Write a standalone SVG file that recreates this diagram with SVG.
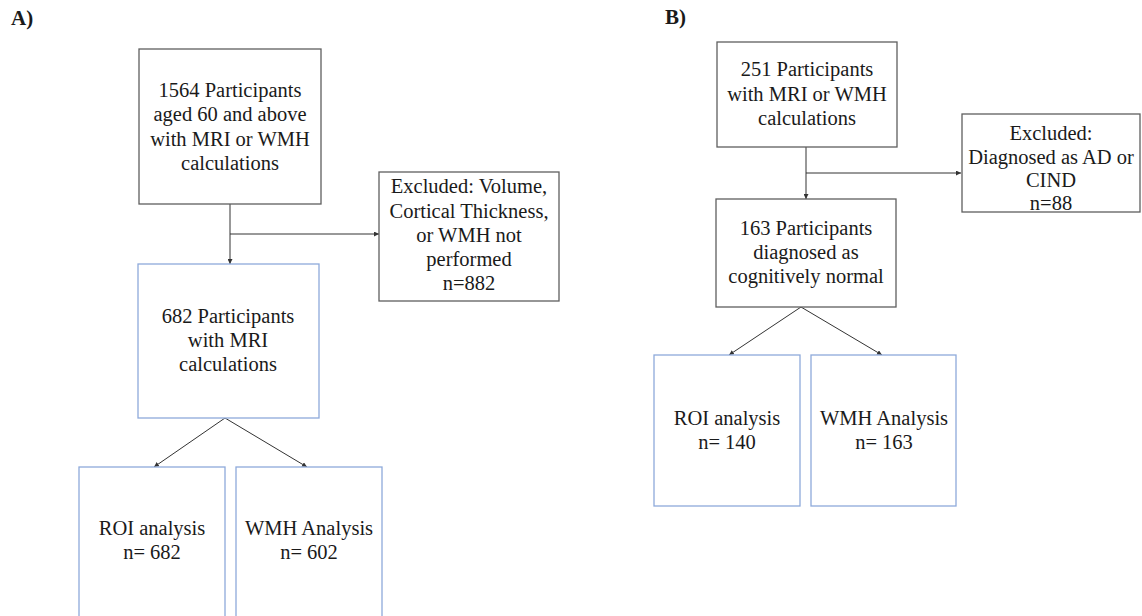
<svg xmlns="http://www.w3.org/2000/svg" width="1142" height="616" viewBox="0 0 1142 616">
<defs>
<style>
text{font-family:"Liberation Serif","Times New Roman",serif;font-size:20.5px;fill:#1a1a1a;text-anchor:middle}
.lbl{font-weight:bold;font-size:21px;text-anchor:start}
.g{fill:#fff;stroke:#5f5f5f;stroke-width:1.3}
.b{fill:#fff;stroke:#8eaadb;stroke-width:1.3}
.c{fill:none;stroke:#333;stroke-width:1}
</style>
<marker id="ah" viewBox="0 0 6 6" refX="6" refY="3" markerWidth="5" markerHeight="5" orient="auto" markerUnits="userSpaceOnUse">
<path d="M0,0 L6,3 L0,6 z" fill="#333"/>
</marker>
</defs>
<rect width="1142" height="616" fill="#fff"/>
<text class="lbl" x="11" y="25">A)</text>
<text class="lbl" x="665" y="24">B)</text>
<g id="connectors">
<path class="c" d="M230,204 V264" marker-end="url(#ah)"/>
<path class="c" d="M230,234 H379" marker-end="url(#ah)"/>
<path class="c" d="M225,418 L154,467" marker-end="url(#ah)"/>
<path class="c" d="M225,418 L307,467" marker-end="url(#ah)"/>
<path class="c" d="M806,147 V199" marker-end="url(#ah)"/>
<path class="c" d="M806,173 H961" marker-end="url(#ah)"/>
<path class="c" d="M801,307 L729,355" marker-end="url(#ah)"/>
<path class="c" d="M801,307 L882,355" marker-end="url(#ah)"/>
</g>
<g id="a-top">
<rect class="g" x="139" y="49" width="182" height="155"/>
<text x="230" y="97">1564 Participants</text>
<text x="230" y="121">aged 60 and above</text>
<text x="230" y="146">with MRI or WMH</text>
<text x="230" y="170">calculations</text>
</g>
<g id="a-excluded">
<rect class="g" x="379" y="172" width="180" height="129"/>
<text x="469" y="193">Excluded: Volume,</text>
<text x="469" y="218">Cortical Thickness,</text>
<text x="469" y="242">or WMH not</text>
<text x="469" y="266">performed</text>
<text x="469" y="290">n=882</text>
</g>
<g id="a-mid">
<rect class="b" x="138" y="264" width="181" height="154"/>
<text x="228" y="323">682 Participants</text>
<text x="228" y="347">with MRI</text>
<text x="228" y="371">calculations</text>
</g>
<g id="a-roi">
<rect class="b" x="79" y="467" width="146" height="160"/>
<text x="152" y="535">ROI analysis</text>
<text x="152" y="559">n= 682</text>
</g>
<g id="a-wmh">
<rect class="b" x="236" y="467" width="146" height="160"/>
<text x="309" y="535">WMH Analysis</text>
<text x="309" y="559">n= 602</text>
</g>
<g id="b-top">
<rect class="g" x="717" y="42" width="180" height="105"/>
<text x="807" y="76">251 Participants</text>
<text x="807" y="101">with MRI or WMH</text>
<text x="807" y="125">calculations</text>
</g>
<g id="b-excluded">
<rect class="g" x="962" y="114" width="178" height="98"/>
<text x="1051" y="140">Excluded:</text>
<text x="1051" y="164">Diagnosed as AD or</text>
<text x="1051" y="187">CIND</text>
<text x="1051" y="210">n=88</text>
</g>
<g id="b-mid">
<rect class="g" x="716" y="199" width="180" height="108"/>
<text x="806" y="235">163 Participants</text>
<text x="806" y="259">diagnosed as</text>
<text x="806" y="283">cognitively normal</text>
</g>
<g id="b-roi">
<rect class="b" x="654" y="355" width="146" height="151"/>
<text x="727" y="425">ROI analysis</text>
<text x="727" y="449">n= 140</text>
</g>
<g id="b-wmh">
<rect class="b" x="811" y="355" width="145" height="151"/>
<text x="884" y="425">WMH Analysis</text>
<text x="884" y="449">n= 163</text>
</g>
</svg>
